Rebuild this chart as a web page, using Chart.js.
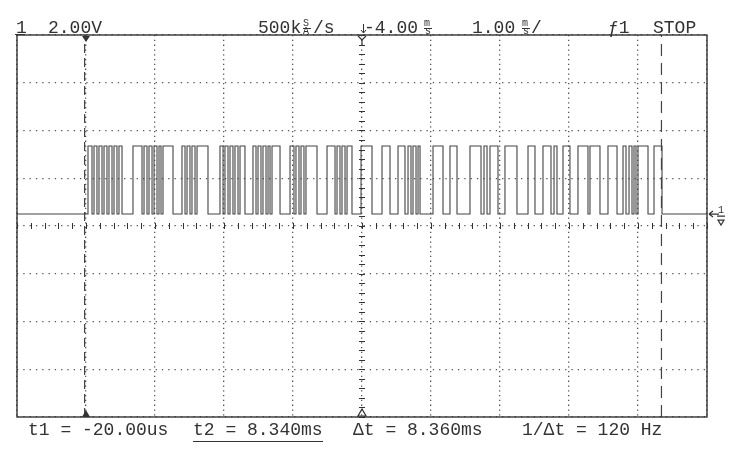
<!DOCTYPE html>
<html>
<head>
<meta charset="utf-8">
<script src="https://cdn.jsdelivr.net/npm/chart.js@4.4.1/dist/chart.umd.min.js"></script>
<style>
  html, body { margin: 0; padding: 0; background: #fff; }
</style>
</head>
<body>
<canvas id="scope" width="735" height="456"></canvas>
<script>
// horizontal: 1.00 ms/div, delay 4.00 ms at screen centre -> -1 .. 9 ms
const timeMin = -1;
const timeMax = 9;
const timePerDiv = 1;
const timeCentre = 4;
// vertical: 2.00 V/div, ground marker sits a little above centre
const voltMin = -8.5;
const voltMax = 7.5;
const voltPerDiv = 2;

const levelIdle = 0;
const levelHigh = 2.85;

// edge times (ms), alternating rise / fall
const edgeTimes = [
  0.029, 0.087, 0.116, 0.159, 0.188, 0.232, 0.261, 0.304, 0.333, 0.377, 0.406, 0.449, 0.478, 0.522,
  0.681, 0.812, 0.841, 0.884, 0.913, 0.957, 0.986, 1.029, 1.058, 1.087,
  1.116, 1.261,
  1.391, 1.435, 1.464, 1.507, 1.536, 1.580, 1.609, 1.768,
  1.942, 1.986, 2.014, 2.058, 2.087, 2.130, 2.159, 2.203, 2.232, 2.304,
  2.420, 2.464, 2.493, 2.536, 2.565, 2.609, 2.638, 2.667, 2.696, 2.812,
  2.957, 3.014, 3.043, 3.087, 3.116, 3.159, 3.188, 3.348,
  3.493, 3.609, 3.638, 3.681, 3.710, 3.754, 3.783, 3.855,
  3.986, 4.145,
  4.290, 4.406,
  4.522, 4.623, 4.667, 4.710, 4.739, 4.783, 4.812, 4.841,
  5.029, 5.174,
  5.275, 5.377,
  5.565, 5.725, 5.768, 5.812, 5.855, 5.971,
  6.072, 6.246,
  6.406, 6.507,
  6.623, 6.739, 6.783, 6.826,
  6.913, 7.014,
  7.130, 7.275,
  7.304, 7.449,
  7.565, 7.696,
  7.783, 7.826, 7.870, 7.913, 7.942, 7.971, 8.000, 8.145,
  8.232, 8.348
];

// cursors (ms)
const cursorT1 = -0.02;
const cursorT2 = 8.34;

const topLabels = ['1', '2.00V', '500k', '-4.00', '1.00', 'ƒ1', 'STOP'];
const bottomLabels = ['t1 = -20.00us', 't2 = 8.340ms', 'Δt = 8.360ms', '1/Δt = 120 Hz'];

// build the trace
let trace = [{ x: timeMin, y: levelIdle }];
edgeTimes.forEach(function (t, i) {
  trace.push({ x: t, y: i % 2 === 0 ? levelHigh : levelIdle });
});
trace.push({ x: timeMax, y: levelIdle });

const ink = '#333';
const mono = '"Liberation Mono", "DejaVu Sans Mono", monospace';

const scopeDecor = {
  id: 'scopeDecor',
  afterDraw(chart) {
    const ctx = chart.ctx;
    const a = chart.chartArea;
    const xs = chart.scales.x;
    const ys = chart.scales.y;
    const cx = xs.getPixelForValue(timeCentre);
    const cy = ys.getPixelForValue((voltMin + voltMax) / 2);
    ctx.save();

    // frame
    ctx.strokeStyle = ink;
    ctx.lineWidth = 1.4;
    ctx.strokeRect(a.left, a.top, a.right - a.left, a.bottom - a.top);

    // centre axes minor ticks
    ctx.lineWidth = 1;
    ctx.beginPath();
    for (let t = timeMin; t <= timeMax + 1e-9; t += timePerDiv / 5) {
      const px = Math.round(xs.getPixelForValue(t)) + 0.5;
      ctx.moveTo(px, cy - 3);
      ctx.lineTo(px, cy + 3);
    }
    for (let v = voltMin; v <= voltMax + 1e-9; v += voltPerDiv / 5) {
      const py = Math.round(ys.getPixelForValue(v)) + 0.5;
      ctx.moveTo(cx - 3, py);
      ctx.lineTo(cx + 3, py);
    }
    ctx.stroke();

    // trigger markers
    const tx = xs.getPixelForValue(0);
    ctx.fillStyle = ink;
    ctx.beginPath();
    ctx.moveTo(tx - 4, a.top + 1);
    ctx.lineTo(tx + 4, a.top + 1);
    ctx.lineTo(tx, a.top + 7);
    ctx.closePath();
    ctx.fill();
    ctx.beginPath();
    ctx.moveTo(tx - 4, a.bottom);
    ctx.lineTo(tx + 4, a.bottom);
    ctx.lineTo(tx, a.bottom - 7);
    ctx.closePath();
    ctx.fill();
    // delay marker Y at top centre, hollow triangle at bottom centre
    ctx.lineWidth = 1.2;
    ctx.beginPath();
    ctx.moveTo(cx - 4, a.top + 1);
    ctx.lineTo(cx, a.top + 5);
    ctx.lineTo(cx + 4, a.top + 1);
    ctx.moveTo(cx, a.top + 5);
    ctx.lineTo(cx, a.top + 10);
    ctx.moveTo(cx - 4, a.bottom - 1);
    ctx.lineTo(cx + 4, a.bottom - 1);
    ctx.lineTo(cx, a.bottom - 8);
    ctx.closePath();
    ctx.stroke();

    // ground marker on the right
    const gy = ys.getPixelForValue(levelIdle);
    const gx = a.right + 2;
    ctx.beginPath();
    ctx.moveTo(gx, gy);
    ctx.lineTo(gx + 10, gy);
    ctx.moveTo(gx, gy);
    ctx.lineTo(gx + 4, gy - 3);
    ctx.moveTo(gx, gy);
    ctx.lineTo(gx + 4, gy + 3);
    ctx.moveTo(gx + 8, gy + 2);
    ctx.lineTo(gx + 16, gy + 2);
    ctx.moveTo(gx + 9, gy + 6);
    ctx.lineTo(gx + 15, gy + 6);
    ctx.lineTo(gx + 12, gy + 11);
    ctx.closePath();
    ctx.stroke();
    ctx.font = '10px ' + mono;
    ctx.fillText('1', gx + 9, gy - 1);

    // top status line
    ctx.font = '18px ' + mono;
    ctx.textBaseline = 'alphabetic';
    const tb = 33;
    ctx.fillText(topLabels[0], 16, tb);
    ctx.fillText(topLabels[1], 48, tb);
    ctx.fillText(topLabels[2], 258, tb);
    ctx.fillText('/s', 313, tb);
    ctx.fillText(topLabels[3], 364, tb);
    ctx.fillText(topLabels[4], 472, tb);
    ctx.fillText('/', 531, tb);
    ctx.fillText(topLabels[5], 608, tb);
    ctx.fillText(topLabels[6], 653, tb);
    // stacked unit glyphs
    ctx.font = '10px ' + mono;
    ctx.fillText('S', 303, 26);
    ctx.fillText('A', 303, 34);
    ctx.fillText('m', 424, 26);
    ctx.fillText('s', 425, 34);
    ctx.fillText('m', 522, 26);
    ctx.fillText('s', 523, 34);
    ctx.lineWidth = 1;
    ctx.beginPath();
    ctx.moveTo(303, 28.5); ctx.lineTo(311, 28.5);
    ctx.moveTo(424, 28.5); ctx.lineTo(432, 28.5);
    ctx.moveTo(522, 28.5); ctx.lineTo(530, 28.5);
    // underline of channel number
    ctx.moveTo(15, 34.5); ctx.lineTo(25, 34.5);
    // trigger delay arrow
    ctx.moveTo(363.5, 24); ctx.lineTo(363.5, 33);
    ctx.moveTo(361, 30); ctx.lineTo(363.5, 33); ctx.lineTo(366, 30);
    ctx.stroke();

    // bottom readout
    ctx.font = '18px ' + mono;
    const bb = 435;
    ctx.fillText(bottomLabels[0], 28, bb);
    ctx.fillText(bottomLabels[1], 193, bb);
    ctx.fillText(bottomLabels[2], 353, bb);
    ctx.fillText(bottomLabels[3], 522, bb);
    ctx.beginPath();
    ctx.moveTo(193, 441.5);
    ctx.lineTo(323, 441.5);
    ctx.stroke();
    ctx.restore();
  }
};

const gridCommon = {
  color: '#555',
  lineWidth: 1.3,
  drawTicks: false
};

new Chart(document.getElementById('scope'), {
  type: 'line',
  data: {
    datasets: [
      {
        label: 'CH1',
        data: trace,
        stepped: true,
        borderColor: '#444',
        borderWidth: 1.1,
        pointRadius: 0,
        fill: false
      },
      {
        label: 't1',
        data: [{ x: cursorT1, y: voltMin }, { x: cursorT1, y: voltMax }],
        borderColor: '#444',
        borderWidth: 1.2,
        borderDash: [9, 5],
        pointRadius: 0
      },
      {
        label: 't2',
        data: [{ x: cursorT2, y: voltMin }, { x: cursorT2, y: voltMax }],
        borderColor: '#444',
        borderWidth: 1.2,
        borderDash: [12, 7],
        pointRadius: 0
      }
    ]
  },
  options: {
    responsive: false,
    animation: false,
    layout: { padding: { left: 17, right: 28, top: 35, bottom: 39 } },
    plugins: {
      legend: { display: false },
      tooltip: { enabled: false }
    },
    scales: {
      x: {
        type: 'linear',
        min: timeMin,
        max: timeMax,
        ticks: { display: false, stepSize: timePerDiv },
        grid: gridCommon,
        border: { display: false, dash: [1.3, 3.5] }
      },
      y: {
        type: 'linear',
        min: voltMin,
        max: voltMax,
        afterBuildTicks: function (scale) {
          let t = [];
          for (let v = voltMin; v <= voltMax + 1e-9; v += voltPerDiv) t.push({ value: v });
          scale.ticks = t;
        },
        ticks: { display: false },
        grid: gridCommon,
        border: { display: false, dash: [1.3, 5] }
      }
    }
  },
  plugins: [scopeDecor]
});
</script>
</body>
</html>
